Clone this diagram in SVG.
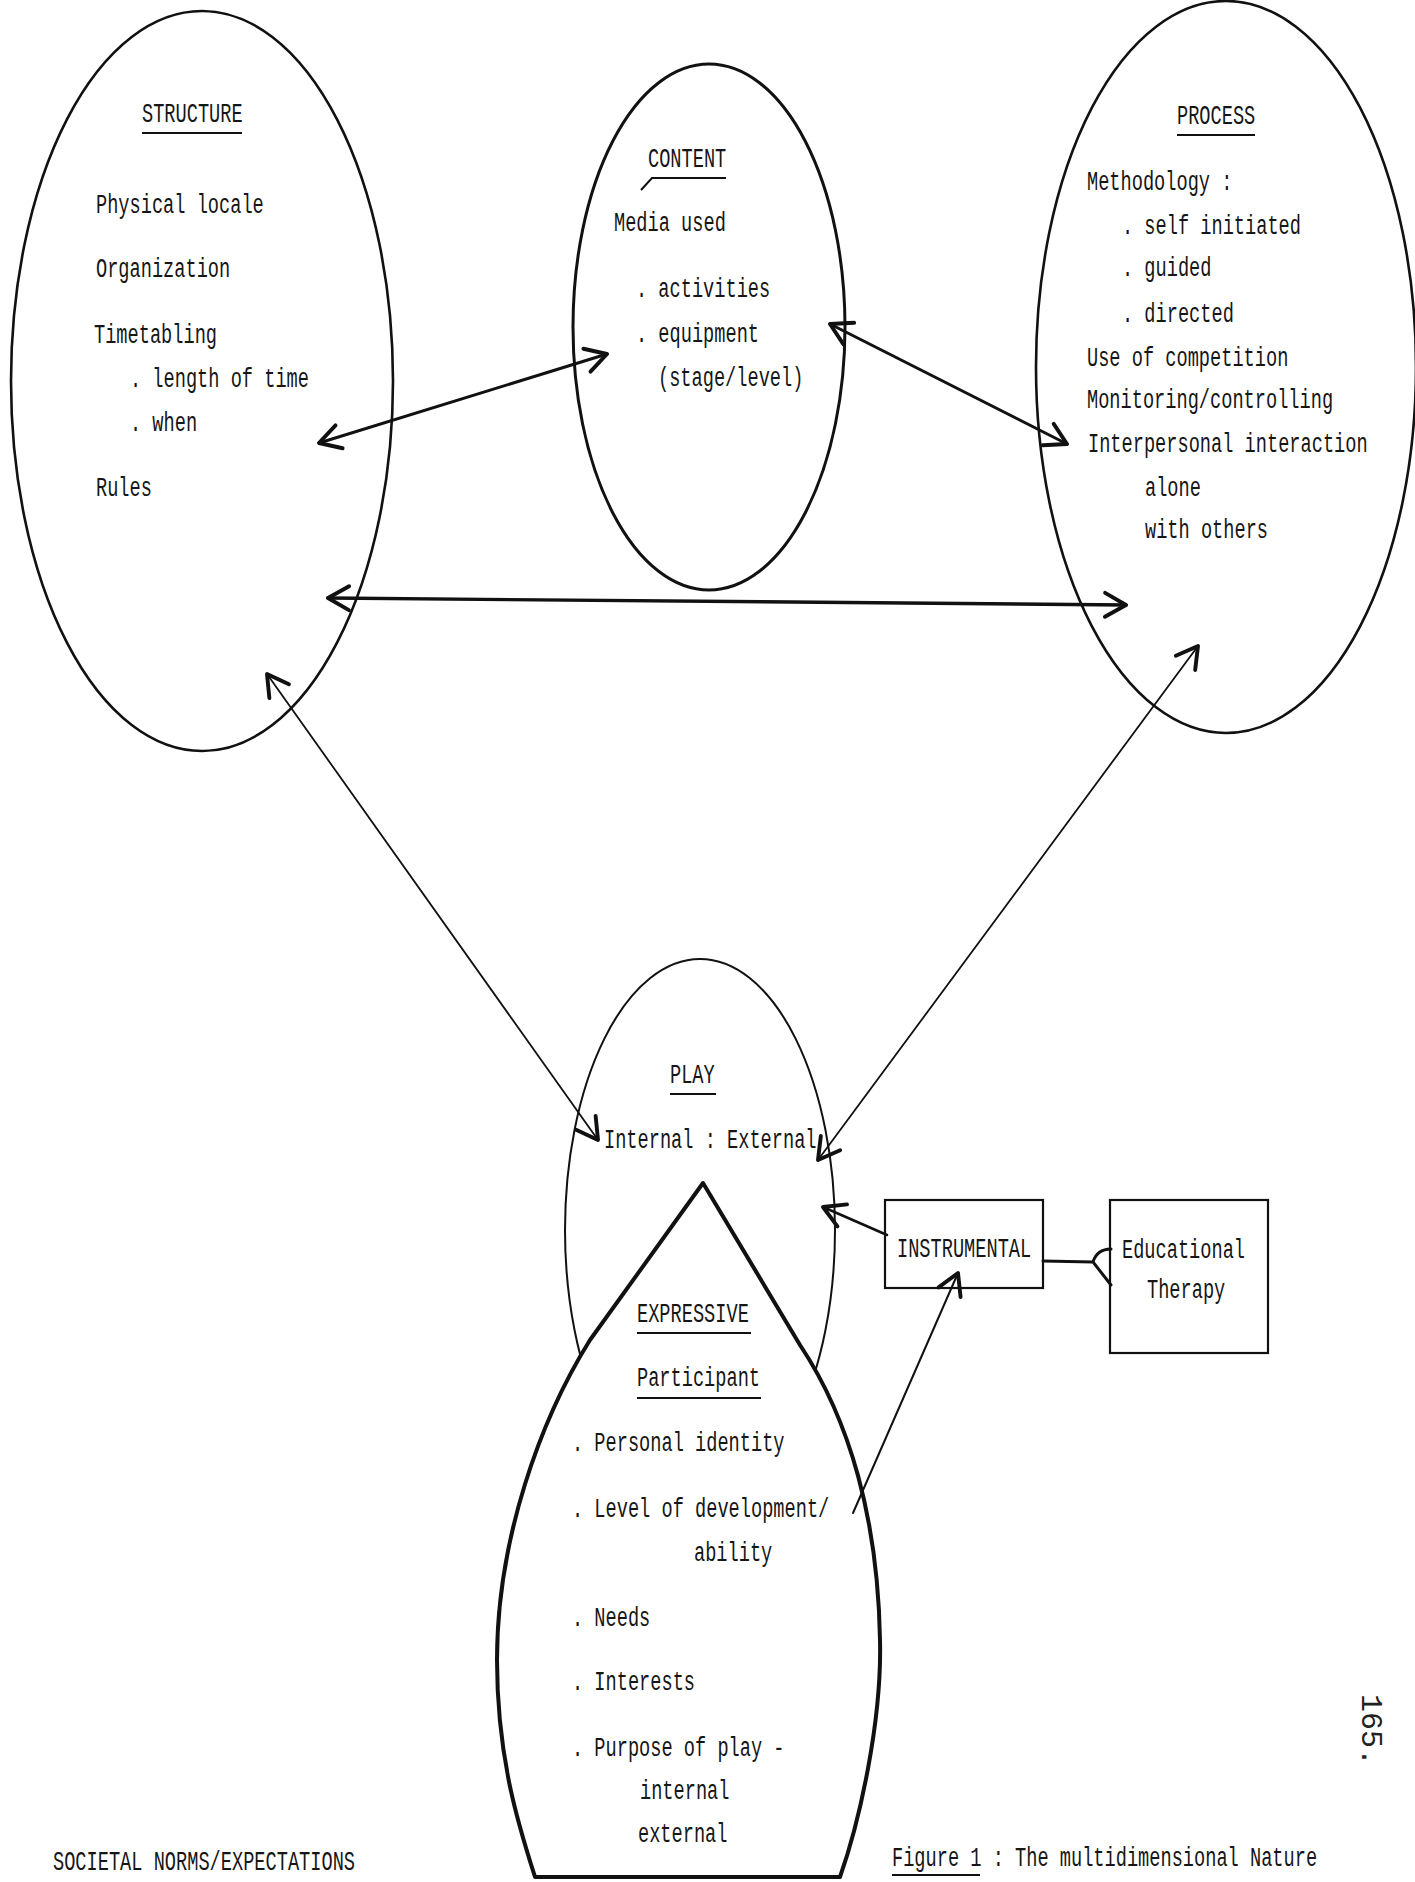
<svg xmlns="http://www.w3.org/2000/svg" width="1415" height="1882" viewBox="0 0 1415 1882">
<style>
.bg{fill:#ffffff}
.sh{fill:none;stroke:#111}
.t{font-family:"Liberation Mono","DejaVu Sans Mono",monospace;font-size:27px;fill:#161616}
.u{stroke:#111;stroke-width:2;fill:none}
.c{fill:none;stroke:#111;stroke-linecap:round}
.box{fill:#fff;stroke:#111;stroke-width:2.2}
</style>
<defs>
<marker id="ah" markerUnits="userSpaceOnUse" markerWidth="30" markerHeight="30" viewBox="-16 -10 20 20" refX="0" refY="0" orient="auto-start-reverse">
<path d="M-14,-8 L0,0 L-14,8" fill="none" stroke="#111" stroke-width="2.6" stroke-linejoin="round" stroke-linecap="round"/>
</marker>
</defs>
<rect class="bg" x="0" y="0" width="1415" height="1882"/>

<g id="node-structure">
<ellipse class="sh" cx="202" cy="381" rx="191" ry="370" stroke-width="2.6"/>
<text class="t" transform="matrix(0.691 0 0 1 142 122)">STRUCTURE</text>
<line class="u" x1="142" y1="133" x2="242" y2="133"/>
<text class="t" transform="matrix(0.691 0 0 1 96 213)">Physical locale</text>
<text class="t" transform="matrix(0.691 0 0 1 96 277)">Organization</text>
<text class="t" transform="matrix(0.691 0 0 1 94 343)">Timetabling</text>
<text class="t" transform="matrix(0.691 0 0 1 130 387)">. length of time</text>
<text class="t" transform="matrix(0.691 0 0 1 130 431)">. when</text>
<text class="t" transform="matrix(0.691 0 0 1 96 496)">Rules</text>
</g>

<g id="node-content">
<ellipse class="sh" cx="709" cy="327" rx="136" ry="263" stroke-width="3"/>
<text class="t" transform="matrix(0.691 0 0 1 648 167)">CONTENT</text>
<path class="u" d="M726,178 L652,178 L641,190"/>
<text class="t" transform="matrix(0.691 0 0 1 614 231)">Media used</text>
<text class="t" transform="matrix(0.691 0 0 1 636 297)">. activities</text>
<text class="t" transform="matrix(0.691 0 0 1 636 342)">. equipment</text>
<text class="t" transform="matrix(0.691 0 0 1 658 386)">(stage/level)</text>
</g>

<g id="node-process">
<ellipse class="sh" cx="1226" cy="367" rx="190" ry="366" stroke-width="2.6"/>
<text class="t" transform="matrix(0.691 0 0 1 1177 124)">PROCESS</text>
<line class="u" x1="1177" y1="135" x2="1255" y2="135"/>
<text class="t" transform="matrix(0.691 0 0 1 1087 190)">Methodology :</text>
<text class="t" transform="matrix(0.691 0 0 1 1122 234)">. self initiated</text>
<text class="t" transform="matrix(0.691 0 0 1 1122 276)">. guided</text>
<text class="t" transform="matrix(0.691 0 0 1 1122 322)">. directed</text>
<text class="t" transform="matrix(0.691 0 0 1 1087 366)">Use of competition</text>
<text class="t" transform="matrix(0.691 0 0 1 1087 408)">Monitoring/controlling</text>
<text class="t" transform="matrix(0.691 0 0 1 1088 452)">Interpersonal interaction</text>
<text class="t" transform="matrix(0.691 0 0 1 1145 496)">alone</text>
<text class="t" transform="matrix(0.691 0 0 1 1145 538)">with others</text>
</g>

<g id="node-play">
<ellipse class="sh" cx="700" cy="1230" rx="135" ry="271" stroke-width="2"/>
<text class="t" transform="matrix(0.691 0 0 1 670 1083)">PLAY</text>
<line class="u" x1="670" y1="1094" x2="716" y2="1094"/>
<text class="t" transform="matrix(0.691 0 0 1 604 1148)">Internal : External</text>
</g>

<g id="node-expressive">
<path d="M703,1183 L590,1340 C540,1420 497,1540 497,1660 C497,1760 520,1830 535,1877 L840,1877 C860,1820 882,1720 880,1640 C878,1520 850,1420 800,1345 Z" fill="#fff" stroke="#111" stroke-width="4" stroke-linejoin="round"/>
<text class="t" transform="matrix(0.691 0 0 1 637 1322)">EXPRESSIVE</text>
<line class="u" x1="637" y1="1333" x2="751" y2="1333"/>
<text class="t" transform="matrix(0.691 0 0 1 637 1386)">Participant</text>
<line class="u" x1="637" y1="1398" x2="761" y2="1398"/>
<text class="t" transform="matrix(0.691 0 0 1 572 1451)">. Personal identity</text>
<text class="t" transform="matrix(0.691 0 0 1 572 1517)">. Level of development/</text>
<text class="t" transform="matrix(0.691 0 0 1 694 1561)">ability</text>
<text class="t" transform="matrix(0.691 0 0 1 572 1626)">. Needs</text>
<text class="t" transform="matrix(0.691 0 0 1 572 1690)">. Interests</text>
<text class="t" transform="matrix(0.691 0 0 1 572 1756)">. Purpose of play -</text>
<text class="t" transform="matrix(0.691 0 0 1 640 1799)">internal</text>
<text class="t" transform="matrix(0.691 0 0 1 638 1842)">external</text>
</g>

<g id="node-instrumental">
<rect class="box" x="885" y="1200" width="158" height="88"/>
<text class="t" transform="matrix(0.691 0 0 1 897 1257)">INSTRUMENTAL</text>
</g>

<g id="node-educational-therapy">
<rect class="box" x="1110" y="1200" width="158" height="153"/>
<text class="t" transform="matrix(0.691 0 0 1 1122 1258)">Educational</text>
<text class="t" transform="matrix(0.691 0 0 1 1147 1298)">Therapy</text>
</g>

<g id="label-societal">
<text class="t" transform="matrix(0.691 0 0 1 53 1870)">SOCIETAL NORMS/EXPECTATIONS</text>
</g>

<g id="caption">
<text class="t" transform="matrix(0.691 0 0 1 892 1866)">Figure 1 : The multidimensional Nature</text>
<line class="u" x1="892" y1="1875" x2="980" y2="1875" stroke-width="1.6"/>
</g>

<g id="page-number">
<text x="1362" y="1694" transform="rotate(90 1362 1694)" font-family="'Liberation Mono','DejaVu Sans Mono',monospace" font-size="30" fill="#222">165.</text>
</g>

<g id="connectors">
<line class="c" x1="319" y1="443" x2="607" y2="354" stroke-width="3" marker-start="url(#ah)" marker-end="url(#ah)"/>
<line class="c" x1="830" y1="324" x2="1067" y2="444" stroke-width="3" marker-start="url(#ah)" marker-end="url(#ah)"/>
<line class="c" x1="328" y1="598" x2="1126" y2="605" stroke-width="3.4" marker-start="url(#ah)" marker-end="url(#ah)"/>
<line class="c" x1="267" y1="674" x2="598" y2="1140" stroke-width="1.8" marker-start="url(#ah)" marker-end="url(#ah)"/>
<line class="c" x1="1198" y1="646" x2="818" y2="1160" stroke-width="1.8" marker-start="url(#ah)" marker-end="url(#ah)"/>
<line class="c" x1="887" y1="1235" x2="823" y2="1207" stroke-width="2.6" marker-end="url(#ah)"/>
<line class="c" x1="853" y1="1513" x2="958" y2="1273" stroke-width="2" marker-end="url(#ah)"/>
<path class="c" d="M1043,1261 L1093,1262 M1111,1249 Q1097,1249 1093,1262 L1111,1285" stroke-width="3"/>
</g>
</svg>
